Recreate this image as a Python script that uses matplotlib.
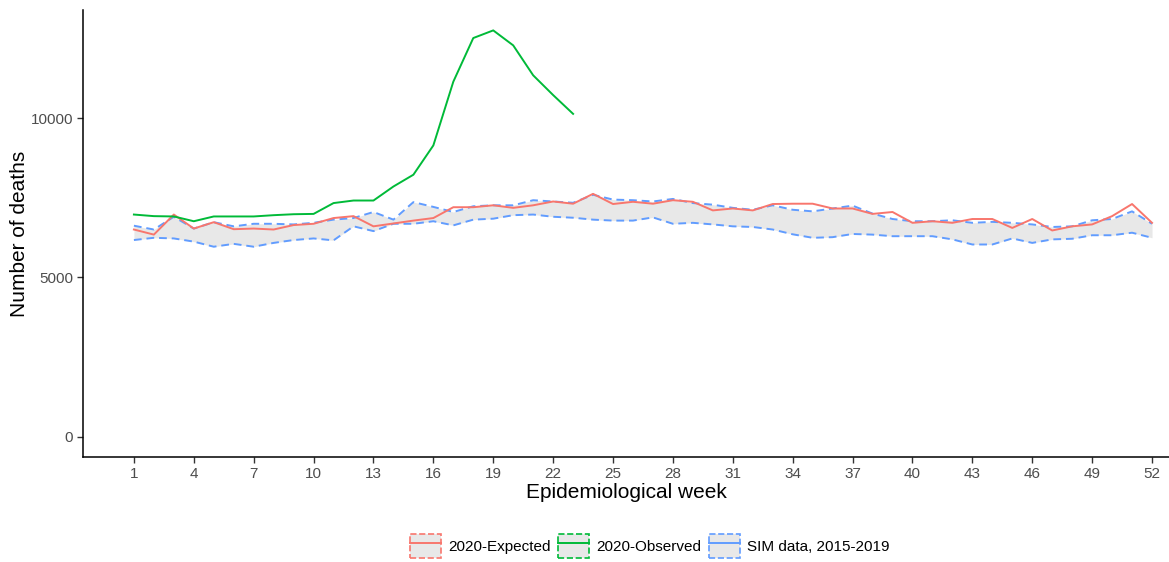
import matplotlib
matplotlib.use("Agg")
import matplotlib.pyplot as plt
from matplotlib.patches import Patch
from matplotlib.lines import Line2D
from matplotlib.legend_handler import HandlerTuple

plt.rcParams['font.family'] = ['Liberation Sans', 'DejaVu Sans']

weeks = list(range(1, 53))
week_ticks = list(range(1, 53, 3))

# 2020 observed deaths (weeks 1-23)
observed = [6970, 6920, 6910, 6760, 6910, 6910, 6910, 6950, 6980, 6990,
            7330, 7410, 7410, 7850, 8220, 9140, 11140, 12510, 12750, 12280,
            11340, 10720, 10130]

# 2020 expected deaths
expected = [6500, 6340, 6970, 6530, 6730, 6510, 6530, 6500, 6640, 6680,
            6860, 6920, 6600, 6690, 6780, 6860, 7200, 7200, 7260, 7180,
            7260, 7380, 7310, 7620, 7300, 7370, 7310, 7420, 7370, 7100,
            7160, 7100, 7300, 7310, 7310, 7160, 7160, 6990, 7050, 6710,
            6760, 6710, 6830, 6830, 6550, 6830, 6470, 6600, 6660, 6920,
            7300, 6710]

# SIM 2015-2019 range
sim_upper = [6620, 6500, 6900, 6530, 6730, 6600, 6680, 6680, 6660, 6710,
             6810, 6860, 7050, 6810, 7360, 7210, 7050, 7230, 7260, 7260,
             7420, 7380, 7340, 7590, 7440, 7420, 7380, 7460, 7330, 7280,
             7180, 7120, 7260, 7120, 7070, 7160, 7250, 7000, 6830, 6760,
             6760, 6790, 6710, 6740, 6710, 6660, 6580, 6600, 6790, 6830,
             7070, 6680]
sim_lower = [6170, 6240, 6220, 6120, 5960, 6050, 5960, 6080, 6170, 6220,
             6160, 6600, 6450, 6680, 6680, 6760, 6630, 6810, 6840, 6950,
             6970, 6900, 6870, 6810, 6780, 6780, 6880, 6680, 6710, 6660,
             6600, 6580, 6500, 6350, 6240, 6260, 6360, 6340, 6290, 6290,
             6290, 6190, 6030, 6030, 6220, 6080, 6190, 6210, 6320, 6320,
             6400, 6240]

red = '#F8766D'
green = '#00BA38'
blue = '#619CFF'
band = '#E8E8E8'

fig = plt.figure(figsize=(11.69, 5.62), dpi=100)
ax = fig.add_axes([83 / 1169, 105 / 562, (1169 - 83) / 1169, 447 / 562])

ax.fill_between(weeks, sim_lower, sim_upper, color=band, lw=0)
ax.plot(weeks, sim_upper, color=blue, lw=1.4, ls=(0, (4, 2.5)))
ax.plot(weeks, sim_lower, color=blue, lw=1.4, ls=(0, (4, 2.5)))
ax.plot(weeks, expected, color=red, lw=1.4)
ax.plot(weeks[:len(observed)], observed, color=green, lw=1.4)

ax.set_xlim(-1.55, 52.85)
ax.set_ylim(-640, 13390)
ax.set_xticks(week_ticks)
ax.set_yticks([0, 5000, 10000])

for side in ['top', 'right']:
    ax.spines[side].set_visible(False)
for side in ['left', 'bottom']:
    ax.spines[side].set_linewidth(1.1)
    ax.spines[side].set_color('black')
ax.tick_params(axis='both', direction='out', length=4, width=1, color='#333333',
               labelcolor='#4D4D4D', labelsize=11, pad=3)

ax.set_xlabel('Epidemiological week', fontsize=15, labelpad=2)
ax.set_ylabel('Number of deaths', fontsize=15, labelpad=1)

labels = ['2020-Expected', '2020-Observed', 'SIM data, 2015-2019']
handles = []
for c in [red, green, blue]:
    box = Patch(facecolor=band, edgecolor=c, linestyle='--', linewidth=1.2)
    line = Line2D([], [], color=c, lw=1.4)
    handles.append((box, line))

fig.legend(handles, labels, loc='center', bbox_to_anchor=(650 / 1169, 1 - 546 / 562),
           ncol=3, frameon=False, fontsize=11, handlelength=2.0, handleheight=2.0,
           handletextpad=0.5, columnspacing=0.5,
           handler_map={tuple: HandlerTuple(ndivide=1)})

fig.savefig('out.png', dpi=100)
